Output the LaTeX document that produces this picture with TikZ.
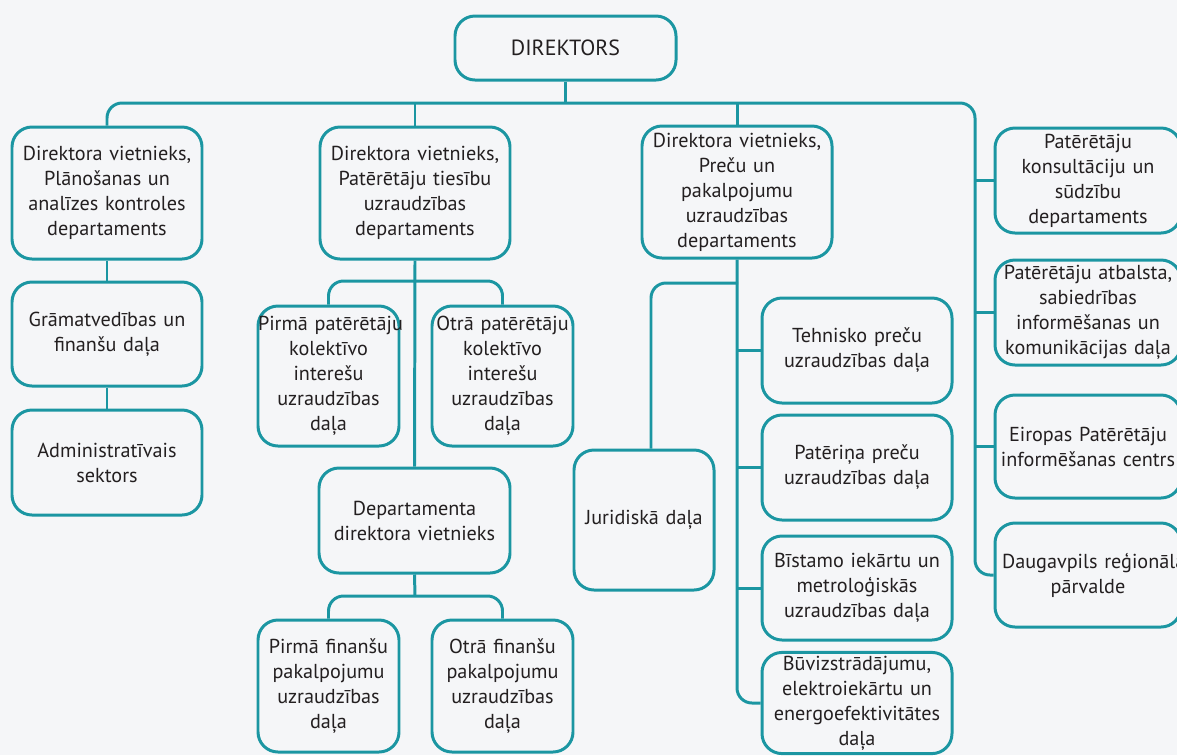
\documentclass[tikz,border=0pt]{standalone}
\usepackage{fontspec}
\setmainfont{PT Sans}
\definecolor{tealc}{HTML}{1B96A2}
\definecolor{bgc}{HTML}{F5F6F8}
\definecolor{inkc}{HTML}{231F20}
\tikzset{
  box/.style={draw=tealc, line width=1.7pt, rounded corners=0.4cm, align=center,
    inner xsep=0pt, inner ysep=2pt, text=inkc, font=\fontsize{11.5}{14.2}\selectfont},
  conn/.style={draw=tealc, line width=1.7pt, rounded corners=0.3cm},
}
\newcommand\bx[7][]{%
  \pgfmathsetlengthmacro\bw{(#5-#3)*0.02cm}%
  \pgfmathsetlengthmacro\bh{(#6-#4)*0.02cm}%
  \node[box, text width=\bw, minimum height=\bh, #1] (#2) at ({(#3+#5)/2},{(#4+#6)/2}) {#7};}
\begin{document}
\begin{tikzpicture}[x=0.02cm, y=-0.02cm]
\useasboundingbox (0,0) rectangle (1177,755);
\clip (0,0) rectangle (1177,755);
\fill[bgc] (0,0) rectangle (1177,755);

\bx[font=\fontsize{12.5}{15}\selectfont]{dir}{455}{16}{676}{80}{DIREKTORS}
\bx{A}{12}{127}{202}{259}{Direktora vietnieks,\\ Plānošanas un\\ analīzes kontroles\\ departaments}
\bx{B}{320}{127}{510}{259}{Direktora vietnieks,\\ Patērētāju tiesību\\ uzraudzības\\ departaments}
\bx{C}{642}{126}{832}{258}{Direktora vietnieks,\\ Preču un\\ pakalpojumu\\ uzraudzības\\ departaments}

\bx{R1}{995}{128}{1181}{233}{Patērētāju\\ konsultāciju un\\ sūdzību\\ departaments}
\bx{R2}{995}{260}{1181}{365}{Patērētāju atbalsta,\\ sabiedrības\\ informēšanas un\\ komunikācijas daļa}
\bx{R3}{995}{395}{1181}{498}{\mbox{Eiropas Patērētāju}\\ \mbox{informēšanas centrs}}
\bx{R4}{995}{523}{1181}{627}{\mbox{\hspace{4pt}Daugavpils reģionālā}\\ pārvalde}

\bx{A1}{12}{282}{202}{386}{Grāmatvedības un\\ finanšu daļa}
\bx{A2}{12}{410}{202}{515}{Administratīvais\\ sektors}

\bx{B1}{258}{306}{399}{446}{\mbox{Pirmā patērētāju}\\ kolektīvo\\ interešu\\ uzraudzības\\ daļa}
\bx{B2}{432}{306}{573}{446}{\mbox{Otrā patērētāju}\\ kolektīvo\\ interešu\\ uzraudzības\\ daļa}
\bx{B3}{319}{468}{510}{573}{Departamenta\\ direktora vietnieks}
\bx{B4}{258}{620}{399}{752}{Pirmā finanšu\\ pakalpojumu\\ uzraudzības\\ daļa}
\bx{B5}{432}{620}{573}{752}{Otrā finanšu\\ pakalpojumu\\ uzraudzības\\ daļa}

\bx{J}{574}{450}{714}{590}{Juridiskā daļa}
\bx{C1}{762}{298}{952}{403}{Tehnisko preču\\ uzraudzības daļa}
\bx{C2}{762}{415}{952}{520}{Patēriņa preču\\ uzraudzības daļa}
\bx{C3}{762}{536}{952}{640}{Bīstamo iekārtu un\\ metroloģiskās\\ uzraudzības daļa}
\bx{C4}{762}{654}{952}{752}{Būvizstrādājumu,\\ elektroiekārtu un\\ \mbox{energoefektivitātes}\\ daļa}

% connectors
\coordinate (bus) at (565,103);
\coordinate (rbus) at (975,103);
\draw[conn] (dir.south) -- (dir.south |- bus);
\draw[conn] (A.north) |- (rbus) |- (R4.west);
\draw[conn] (B.north) -- (B.north |- bus);
\draw[conn] (C.north) -- (C.north |- bus);
\draw[conn] (R1.west) -- (R1.west -| rbus);
\draw[conn] (R2.west) -- (R2.west -| rbus);
\draw[conn] (R3.west) -- (R3.west -| rbus);

\draw[conn] (A.south) -- (A1.north);
\draw[conn] (A1.south) -- (A2.north);

\coordinate (bsub) at (415,281);
\coordinate (bsub2) at (415,596);
\draw[conn] (B.south) -- (B3.north);
\draw[conn] (B1.north) |- (bsub) -| (B2.north);
\draw[conn] (B3.south) -- (bsub2);
\draw[conn] (B4.north) |- (bsub2) -| (B5.north);

\coordinate (csub) at (738,283);
\draw[conn] (C.south) |- (C4.west);
\draw[conn] (C1.west) -- (C1.west -| C.south);
\draw[conn] (C2.west) -- (C2.west -| C.south);
\draw[conn] (C3.west) -- (C3.west -| C.south);
\draw[conn] ([xshift=0.14cm]J.north) |- (csub);
\end{tikzpicture}
\end{document}
